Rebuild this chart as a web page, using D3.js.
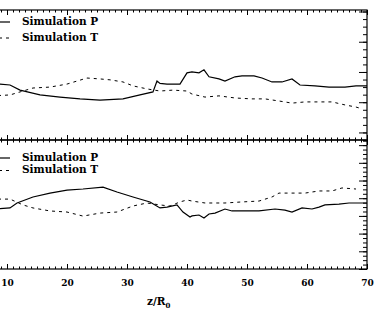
<!DOCTYPE html>
<meta charset="utf-8">
<style>
body {
  margin: 0;
  background: #fff;
}
svg {
  display: block;
}
.frame {
  fill: none;
  stroke: #000;
  stroke-width: 1.2px;
}
.axis path {
  display: none;
}
.axis line {
  stroke: #000;
  stroke-width: 1px;
}
.axis text {
  font-family: "DejaVu Serif", serif;
  font-weight: bold;
  font-size: 9px;
  fill: #000;
}
.curve {
  fill: none;
  stroke: #000;
  stroke-width: 1.2px;
}
.dashed {
  stroke-dasharray: 3,4;
  stroke-width: 1px;
}
.legend text, .xlabel {
  font-family: "DejaVu Serif", serif;
  font-weight: bold;
  font-size: 10.5px;
  fill: #000;
}
</style>
<body>
<script src="https://cdn.jsdelivr.net/npm/d3@7"></script>
<script>
var width = 384,
    height = 313;

// x ticks (z/R0); the 0 tick sits off the left edge
var xMajor = [10, 20, 30, 40, 50, 60, 70];
var xLabels = ["10", "20", "30", "40", "50", "60", "70"];

// top panel
var topPz = [8.5, 10.5, 12.17, 15.5, 18.83, 22.17, 25.5, 29.33, 32.17, 34.33, 35, 35.5, 36.67, 38.83, 40, 40.83, 42, 42.83, 43.67, 45.33, 46.33, 48, 49.17, 51.17, 52.5, 54.17, 55.83, 57.5, 58.83, 61.33, 63.67, 66.33, 68.17, 70];
var topPv = [1.6, 1.57, 1.40, 1.24, 1.17, 1.11, 1.07, 1.11, 1.24, 1.34, 1.70, 1.62, 1.60, 1.60, 1.97, 2.0, 1.97, 2.07, 1.84, 1.77, 1.70, 1.84, 1.87, 1.87, 1.80, 1.67, 1.67, 1.77, 1.57, 1.54, 1.50, 1.50, 1.54, 1.54];
var topTz = [8.5, 10.5, 12.17, 14.33, 17.17, 20, 21.67, 23.33, 25.5, 27.17, 29.33, 31, 33.33, 35.5, 37.67, 40, 40.83, 43, 45.33, 48, 50.83, 53, 55.33, 57.5, 59.67, 62, 64.17, 66.33, 68.17, 68.67];
var topTv = [1.22, 1.24, 1.34, 1.47, 1.50, 1.60, 1.70, 1.80, 1.77, 1.74, 1.67, 1.54, 1.44, 1.37, 1.40, 1.37, 1.27, 1.17, 1.21, 1.14, 1.11, 1.11, 1.04, 0.97, 1.01, 1.01, 1.01, 0.91, 0.84, 0.81];

// bottom panel
var botPz = [8.5, 10.5, 11.67, 14.33, 17.17, 20, 22.67, 26, 28.33, 31, 33.83, 35.5, 36.67, 38.33, 39.33, 40.5, 40.83, 42, 42.83, 43.67, 44.67, 46.33, 47.5, 52, 54.67, 56.33, 57.5, 59.17, 60.83, 62, 63, 65.33, 67, 70];
var botPv = [3.40, 3.45, 3.73, 4.07, 4.29, 4.46, 4.52, 4.63, 4.35, 4.07, 3.79, 3.45, 3.50, 3.62, 3.22, 2.94, 3.0, 3.05, 2.88, 3.11, 3.16, 3.39, 3.28, 3.28, 3.39, 3.33, 3.22, 3.45, 3.39, 3.50, 3.62, 3.67, 3.73, 3.73];
var botTz = [8.5, 10.5, 12.67, 14.33, 17.17, 20, 22.67, 25.5, 28.33, 31, 33.33, 35.5, 37.17, 38.83, 40, 40.83, 43, 46.33, 49.17, 52, 54.17, 55.33, 57.5, 59.67, 62, 64.17, 65.83, 68.17];
var botTv = [3.95, 3.95, 3.62, 3.45, 3.28, 3.22, 2.99, 3.16, 3.22, 3.56, 3.73, 3.62, 3.56, 3.79, 3.90, 3.84, 3.73, 3.73, 3.79, 3.84, 4.07, 4.29, 4.29, 4.29, 4.41, 4.41, 4.58, 4.52];

var series = ["Simulation P", "Simulation T"];

var x = d3.scaleLinear().domain([0, 70]).range([-53, 367]);

var panels = [
  {top: 10, bottom: 140, domain: [-0.25, 4.05], major: d3.range(0, 5), minor: d3.range(-0.25, 4.01, 0.25),
   P: [topPz, topPv], T: [topTz, topTv], legend: [24.5, 40.5], labels: false},
  {top: 140, bottom: 269, domain: [0, 7.29], major: d3.range(0, 8), minor: d3.range(0, 7.26, 0.25),
   P: [botPz, botPv], T: [botTz, botTv], legend: [160.5, 173], labels: true}
];

var svg = d3.select("body").append("svg")
    .attr("width", width)
    .attr("height", height);

var xMinor = d3.range(0, 71, 1);

panels.forEach(function(p) {
  var y = d3.scaleLinear().domain(p.domain).range([p.bottom, p.top]);

  // top spine ticks, pointing down
  svg.append("g").attr("class", "axis")
      .attr("transform", "translate(0," + p.top + ")")
      .call(d3.axisTop(x).tickValues(xMinor).tickSize(-2.5).tickFormat(""));
  svg.append("g").attr("class", "axis")
      .attr("transform", "translate(0," + p.top + ")")
      .call(d3.axisTop(x).tickValues(xMajor).tickSize(-5).tickFormat(""));

  // bottom spine ticks, pointing up
  svg.append("g").attr("class", "axis")
      .attr("transform", "translate(0," + p.bottom + ")")
      .call(d3.axisBottom(x).tickValues(xMinor).tickSize(-2.5).tickFormat(""));
  svg.append("g").attr("class", "axis")
      .attr("transform", "translate(0," + p.bottom + ")")
      .call(d3.axisBottom(x).tickValues(xMajor).tickSize(-5).tickPadding(11)
        .tickFormat(function(d, i) { return p.labels ? xLabels[i] : ""; }));

  // right spine ticks, pointing left
  svg.append("g").attr("class", "axis")
      .attr("transform", "translate(" + x(70) + ",0)")
      .call(d3.axisRight(y).tickValues(p.minor).tickSize(-4).tickFormat(""));
  svg.append("g").attr("class", "axis")
      .attr("transform", "translate(" + x(70) + ",0)")
      .call(d3.axisRight(y).tickValues(p.major).tickSize(-8).tickFormat(""));

  svg.append("rect")
      .attr("class", "frame")
      .attr("x", x(0))
      .attr("y", p.top)
      .attr("width", x(70) - x(0))
      .attr("height", p.bottom - p.top);

  var line = d3.line()
      .x(function(d) { return x(d[0]); })
      .y(function(d) { return y(d[1]); });

  [p.P, p.T].forEach(function(s, k) {
    svg.append("path")
        .datum(d3.zip(s[0], s[1]))
        .attr("class", k ? "curve dashed" : "curve")
        .attr("d", line);
  });

  var legend = svg.append("g").attr("class", "legend");
  series.forEach(function(name, k) {
    var ly = p.legend[k];
    legend.append("line")
        .attr("class", k ? "curve dashed" : "curve")
        .attr("x1", k ? -1 : -20).attr("x2", 10)
        .attr("y1", ly - 2.5).attr("y2", ly - 2.5);
    legend.append("text")
        .attr("x", 22)
        .attr("y", ly)
        .text(name);
  });
});

var xl = svg.append("text")
    .attr("class", "xlabel")
    .attr("x", 147)
    .attr("y", 305);
xl.append("tspan").text("z/R");
xl.append("tspan").attr("font-size", "7px").attr("dy", 3).text("0");
</script>
